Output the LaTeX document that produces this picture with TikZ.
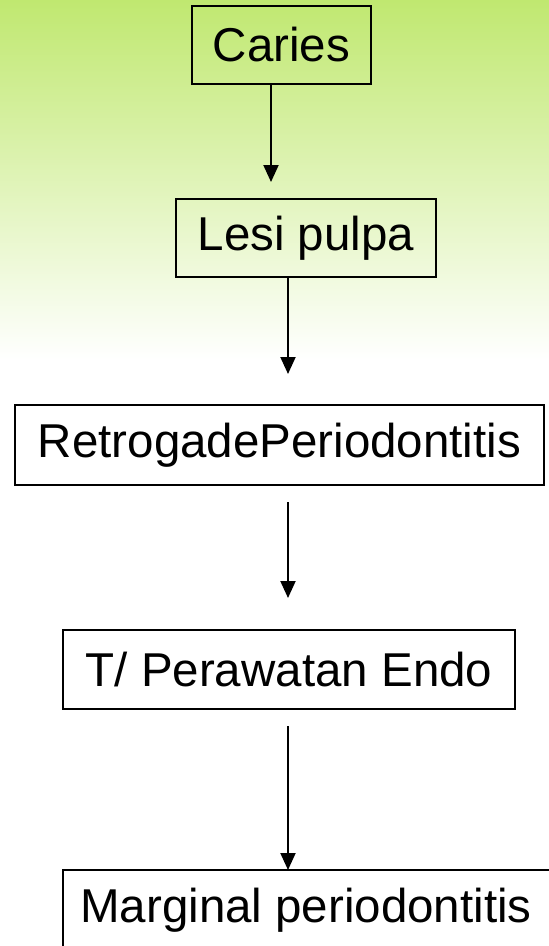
\documentclass[tikz,border=0pt]{standalone}
\usepackage{fontspec}
\setmainfont{Liberation Sans}
\usetikzlibrary{arrows.meta}
\definecolor{topgreen}{RGB}{192,232,112}
\tikzset{
  box/.style={draw=black, line width=2pt, inner sep=0pt, font=\fontsize{47.5}{54}\selectfont},
  txt/.style={inner sep=0pt, font=\fontsize{47.5}{54}\selectfont},
  conn/.style={draw=black, line width=2pt, -{Triangle[width=15pt,length=17pt]}}
}
\begin{document}
\begin{tikzpicture}[x=1pt,y=-1pt]
\useasboundingbox (0,0) rectangle (549,946);
\shade[top color=topgreen, bottom color=white, middle color={topgreen!50!white}] (0,0) rectangle (549,360);
\node[box, minimum width=179pt, minimum height=78pt] (caries) at (281.5,45) {Caries};
\node[box, minimum width=260pt, minimum height=78pt] (lesi) at (306,238) {Lesi pulpa};
\node[box, minimum width=529pt, minimum height=80pt] (retro) at (279.5,445) {RetrogadePeriodontitis};
\node[box, minimum width=452pt, minimum height=79pt] (endo) at (289,669.5) {T/ Perawatan Endo};
\node[txt] (marg) at (306,910) {Marginal periodontitis};
\draw[line width=2pt] (63,960) -- (63,870) -- (560,870);
\coordinate (e1) at (271,182);
\coordinate (e2) at (288,374);
\coordinate (e3) at (288,598);
\coordinate (e4) at (288,870);
\draw[conn] (caries.south -| e1) -- (e1);
\draw[conn] (lesi.south -| e2) -- (e2);
\draw[conn] (288,502) -- (e3);
\draw[conn] (288,726) -- (e4);
\end{tikzpicture}
\end{document}
